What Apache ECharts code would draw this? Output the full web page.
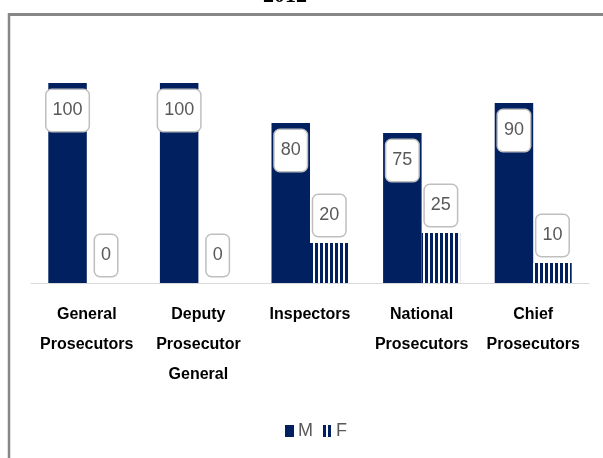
<!DOCTYPE html>
<html>
<head>
<meta charset="utf-8">
<script src="https://cdn.jsdelivr.net/npm/echarts@6/dist/echarts.min.js"></script>
<style>
  html, body { margin: 0; padding: 0; background: #fff; }
  #chart { width: 603px; height: 458px; }
</style>
</head>
<body>
<div id="chart"></div>
<script>
// 数据
const categories = [
  "General\nProsecutors",
  "Deputy\nProsecutor\nGeneral",
  "Inspectors",
  "National\nProsecutors",
  "Chief\nProsecutors",
];
const maleValues = [100, 100, 80, 75, 90];
const femaleValues = [0, 0, 20, 25, 10];
const seriesNames = ["M", "F"];

const NAVY = "#002060";
const FONT = "'Liberation Sans', Arial, sans-serif";

// 竖条纹填充
function stripePattern() {
  const c = document.createElement("canvas");
  c.width = 5;
  c.height = 10;
  const ctx = c.getContext("2d");
  ctx.fillStyle = "#fff";
  ctx.fillRect(0, 0, 5, 10);
  ctx.fillStyle = NAVY;
  ctx.fillRect(0, 0, 3, 10);
  return { image: c, repeat: "repeat" };
}

const labelBox = {
  show: true,
  color: "#595959",
  fontFamily: FONT,
  fontSize: 18,
  lineHeight: 19,
  backgroundColor: "#fff",
  borderColor: "#bfbfbf",
  borderWidth: 1.5,
  borderRadius: 5,
  padding: [11, 6],
};

const chart = echarts.init(document.getElementById("chart"));
chart.setOption({
  animation: false,
  graphic: [
    {
      type: "text",
      style: {
        text: "2012",
        x: 285,
        y: 7,
        font: "bold 22px 'Liberation Serif', serif",
        fill: "#000",
        textAlign: "center",
        textVerticalAlign: "bottom",
      },
    },
    {
      type: "line",
      shape: { x1: 8, y1: 14.5, x2: 603, y2: 14.5 },
      style: { stroke: "#878787", lineWidth: 3 },
    },
    {
      type: "line",
      shape: { x1: 9, y1: 13, x2: 9, y2: 458 },
      style: { stroke: "#878787", lineWidth: 2.5 },
    },
  ],
  grid: {
    left: 31,
    right: 14,
    top: 83,
    bottom: 175,
    containLabel: false,
  },
  legend: {
    data: seriesNames,
    left: 280,
    top: 417,
    itemWidth: 9,
    itemHeight: 12,
    itemGap: 10,
    icon: "rect",
    textStyle: {
      color: "#595959",
      fontFamily: FONT,
      fontSize: 18,
      padding: [0, 0, 0, -1],
    },
  },
  xAxis: {
    type: "category",
    data: categories,
    axisLine: { lineStyle: { color: "#d9d9d9", width: 1 } },
    axisTick: { show: false },
    axisLabel: {
      interval: 0,
      margin: 17,
      color: "#000",
      fontFamily: FONT,
      fontWeight: "bold",
      fontSize: 16,
      lineHeight: 30,
    },
  },
  yAxis: {
    type: "value",
    min: 0,
    max: 100,
    show: false,
    splitLine: { show: false },
  },
  series: [
    {
      name: seriesNames[0],
      type: "bar",
      data: maleValues,
      barGap: "0%",
      barCategoryGap: "31%",
      itemStyle: { color: NAVY },
      label: Object.assign({}, labelBox, {
        position: "insideTop",
        distance: 7,
      }),
    },
    {
      name: seriesNames[1],
      type: "bar",
      data: femaleValues,
      itemStyle: { color: stripePattern() },
      label: Object.assign({}, labelBox, {
        position: "top",
        distance: 7,
      }),
    },
  ],
});
</script>
</body>
</html>
